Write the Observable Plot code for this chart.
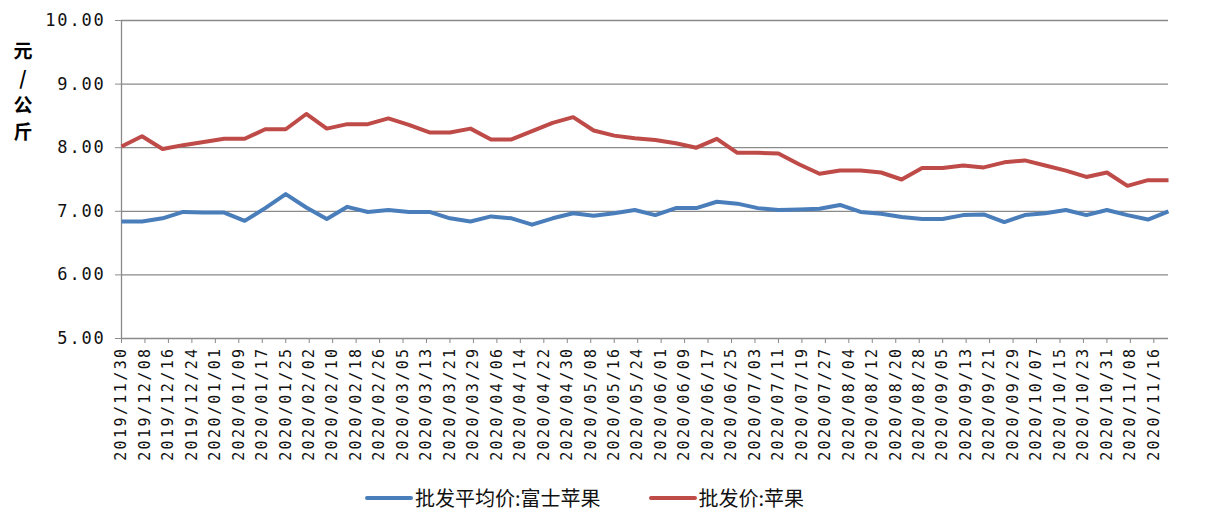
<!DOCTYPE html>
<html><head><meta charset="utf-8">
<script src="https://cdn.jsdelivr.net/npm/d3@7"></script>
<script src="https://cdn.jsdelivr.net/npm/@observablehq/plot@0.6"></script>
<style>
body{margin:0;background:#fff;width:1224px;height:513px;overflow:hidden;position:relative;font-family:"Noto Sans CJK SC",sans-serif}
#chart{position:absolute;left:0;top:0}
#ytitle{position:absolute;left:10px;top:36px;width:26px;text-align:center;font-weight:bold;font-size:19px;line-height:27px;color:#000;font-family:"Noto Sans CJK SC",sans-serif}
#legend{position:absolute;top:483px;left:365px;display:flex;align-items:center;font-size:20px;color:#111;white-space:nowrap}
.sw{display:inline-block;width:48px;height:4px;margin-right:2px;border-radius:2px}
.item{display:flex;align-items:center}
#chart g[aria-label="x-axis tick label"] text{letter-spacing:2.4px}
#chart g[aria-label="y-axis tick label"] text{letter-spacing:1.8px}
</style></head><body>
<div id="chart"></div>
<div id="ytitle">元<br>/<br>公<br>斤</div>
<div id="legend"></div>
<script>
// weekly observation dates
const dates = ["2019/11/30","2019/12/07","2019/12/14","2019/12/21","2019/12/28","2020/01/04","2020/01/11","2020/01/18","2020/01/25","2020/02/01","2020/02/08","2020/02/15","2020/02/22","2020/02/29","2020/03/07","2020/03/14","2020/03/21","2020/03/28","2020/04/04","2020/04/11","2020/04/18","2020/04/25","2020/05/02","2020/05/09","2020/05/16","2020/05/23","2020/05/30","2020/06/06","2020/06/13","2020/06/20","2020/06/27","2020/07/04","2020/07/11","2020/07/18","2020/07/25","2020/08/01","2020/08/08","2020/08/15","2020/08/22","2020/08/29","2020/09/05","2020/09/12","2020/09/19","2020/09/26","2020/10/03","2020/10/10","2020/10/17","2020/10/24","2020/10/31","2020/11/07","2020/11/14","2020/11/21"];
// 批发平均价:富士苹果
const fuji = [6.84,6.84,6.89,6.99,6.98,6.98,6.85,7.05,7.27,7.06,6.88,7.07,6.99,7.02,6.99,6.99,6.89,6.84,6.92,6.89,6.79,6.89,6.97,6.93,6.97,7.02,6.94,7.05,7.05,7.15,7.12,7.05,7.02,7.03,7.04,7.10,6.99,6.96,6.91,6.88,6.88,6.94,6.95,6.83,6.94,6.97,7.02,6.94,7.02,6.94,6.87,7.00];
// 批发价:苹果
const apple = [8.02,8.18,7.98,8.04,8.09,8.14,8.14,8.29,8.29,8.53,8.30,8.37,8.37,8.46,8.36,8.24,8.24,8.30,8.13,8.13,8.26,8.39,8.48,8.27,8.19,8.15,8.12,8.07,8.00,8.14,7.92,7.92,7.91,7.74,7.59,7.64,7.64,7.61,7.50,7.68,7.68,7.72,7.69,7.77,7.80,7.72,7.64,7.54,7.61,7.40,7.49,7.49];
const seriesNames = ["批发平均价:富士苹果","批发价:苹果"];
const seriesColors = ["#4a7ebb","#be4b48"];
const tickLabels = ["2019/11/30","2019/12/08","2019/12/16","2019/12/24","2020/01/01","2020/01/09","2020/01/17","2020/01/25","2020/02/02","2020/02/10","2020/02/18","2020/02/26","2020/03/05","2020/03/13","2020/03/21","2020/03/29","2020/04/06","2020/04/14","2020/04/22","2020/04/30","2020/05/08","2020/05/16","2020/05/24","2020/06/01","2020/06/09","2020/06/17","2020/06/25","2020/07/03","2020/07/11","2020/07/19","2020/07/27","2020/08/04","2020/08/12","2020/08/20","2020/08/28","2020/09/05","2020/09/13","2020/09/21","2020/09/29","2020/10/07","2020/10/15","2020/10/23","2020/10/31","2020/11/08","2020/11/16"];
const yTicks = [5,6,7,8,9,10];

const parse = d3.utcParse("%Y/%m/%d");
const fmt = d3.utcFormat("%Y/%m/%d");
const rows = [];
dates.forEach((d,i)=>{
  rows.push({date: parse(d), value: fuji[i], series: seriesNames[0]});
  rows.push({date: parse(d), value: apple[i], series: seriesNames[1]});
});
const xTicks = tickLabels.map(parse);

const chart = Plot.plot({
  width: 1224, height: 480,
  marginTop: 20, marginBottom: 142, marginLeft: 121, marginRight: 56,
  style: {background: "#fff", color: "#000", overflow: "visible"},
  x: {type: "utc", domain: [parse(dates[0]), parse(dates[dates.length-1])]},
  y: {domain: [5, 10]},
  color: {domain: seriesNames, range: seriesColors},
  marks: [
    Plot.ruleY(yTicks, {stroke: "#8a8a8a", strokeWidth: 1.3}),
    Plot.ruleX([parse(dates[0])], {stroke: "#8a8a8a", strokeWidth: 1.3}),
    Plot.axisY({ticks: yTicks, tickFormat: d => d.toFixed(2), tickSize: 6, tickPadding: 10, stroke: "#8a8a8a",
      fontFamily: "DejaVu Sans Mono", fontSize: 17, fill: "#111", label: null}),
    Plot.axisX({ticks: xTicks, tickFormat: fmt, tickSize: 5, tickPadding: 3, tickRotate: -90, stroke: "#8a8a8a",
      fontFamily: "DejaVu Sans Mono", fontSize: 15, fill: "#111", label: null}),
    Plot.line(rows, {x: "date", y: "value", z: "series", stroke: "series", strokeWidth: 4, strokeLinejoin: "round", strokeLinecap: "butt"})
  ]
});
document.getElementById("chart").appendChild(chart);

const legend = document.getElementById("legend");
seriesNames.forEach((n,i)=>{
  const it = document.createElement("div");
  it.className = "item";
  it.style.marginRight = i === 0 ? "48px" : "0";
  const sw = document.createElement("span");
  sw.className = "sw"; sw.style.background = seriesColors[i];
  const t = document.createElement("span");
  t.textContent = n;
  it.appendChild(sw); it.appendChild(t);
  legend.appendChild(it);
});
</script>
</body></html>
